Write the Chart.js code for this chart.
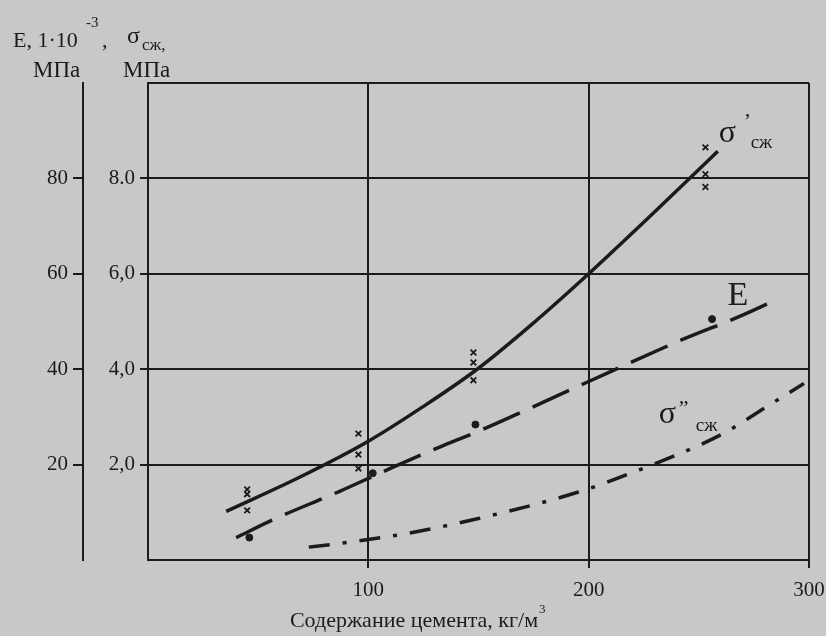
<!DOCTYPE html>
<html>
<head>
<meta charset="utf-8">
<script src="https://cdn.jsdelivr.net/npm/chart.js@4.4.0/dist/chart.umd.min.js"></script>
<style>
  html, body { margin: 0; padding: 0; background: #c8c8c6; }
  canvas { display: block; }
</style>
</head>
<body>
<canvas id="strengthChart" width="826" height="636"></canvas>
<script>
// tick labels
const xTickText = ['', '100', '200', '300'];
const sigmaTickText = ['', '2,0', '4,0', '6,0', '8.0', ''];
const eTickText = ['', '20', '40', '60', '80', ''];

// sigma' (solid) curve, MPa
const sigma1X = [35.5, 69, 100, 125, 150, 175, 200, 230, 258.6];
const sigma1Y = [1.02, 1.74, 2.49, 3.22, 4.02, 4.97, 6.0, 7.3, 8.57];
// sigma' test points (x marks)
const sigma1PtsX = [45, 45, 45, 95.5, 95.5, 95.5, 147.7, 147.7, 147.7, 253, 253, 253];
const sigma1PtsY = [1.48, 1.38, 1.04, 2.65, 2.21, 1.92, 4.35, 4.14, 3.77, 8.65, 8.09, 7.82];

// E (dashed) curve, E*10^-3 MPa
const eLineX = [40, 57, 87, 110, 134, 151, 198, 244, 267.7, 284.5];
const eLineY = [4.7, 8.5, 14.4, 19.2, 24.0, 27.2, 37.0, 46.5, 50.9, 54.4];
const ePtsX = [46, 102, 148.6, 256];
const ePtsY = [4.7, 18.2, 28.4, 50.5];

// sigma'' (dash-dot) curve, MPa
const sigma2X = [73, 80.5, 100, 118, 150, 195, 218, 261, 281, 297.7];
const sigma2Y = [0.27, 0.31, 0.43, 0.56, 0.87, 1.42, 1.80, 2.65, 3.22, 3.7];

const ink = '#1b1b1b';
const serif = "'Liberation Serif', 'DejaVu Serif', serif";
Chart.defaults.font.family = serif;
Chart.defaults.color = ink;

const toXY = (xs, ys) => xs.map((x, i) => ({ x, y: ys[i] }));
const hideEnds = (lo, hi) => (c) => (c.tick && (c.tick.value === lo || c.tick.value === hi)) ? 'rgba(0,0,0,0)' : ink;

// curve names and axis captions
const notes = {
  id: 'notes',
  afterDraw(chart) {
    const { ctx, scales: { x, y } } = chart;
    const put = (txt, px, py, size) => {
      ctx.font = `${size}px ${serif}`;
      ctx.fillText(txt, px, py);
      return ctx.measureText(txt).width;
    };
    ctx.save();
    ctx.fillStyle = ink;
    ctx.textAlign = 'left';
    ctx.textBaseline = 'alphabetic';

    let px = x.getPixelForValue(259), py = y.getPixelForValue(8.76);
    put('σ', px, py, 32);
    put('\u2019', px + 25, py - 14, 22);
    put('сж', px + 32, py + 6, 19);

    px = x.getPixelForValue(263); py = y.getPixelForValue(5.34);
    put('E', px, py, 34);

    px = x.getPixelForValue(231.8); py = y.getPixelForValue(2.88);
    put('σ', px, py, 32);
    put('\u201D', px + 20, py - 8, 22);
    put('сж', px + 37, py + 8, 19);

    // y axis captions
    let w = put('E, 1·10', 13, 47, 22);
    put('-3', 86, 27, 15);
    put(',', 102, 47, 22);
    w = put('σ', 127, 43, 24);
    put('сж,', 127 + w + 2, 50, 17);
    put('МПа', 33, 77, 23);
    put('МПа', 123, 77, 23);

    // x axis caption
    const title = 'Содержание цемента, кг/м';
    ctx.font = `22px ${serif}`;
    const tw = ctx.measureText(title).width;
    const left = 414 - tw / 2;
    put(title, left, 627, 22);
    put('3', left + tw + 1, 613, 13);
    ctx.restore();
  }
};

new Chart(document.getElementById('strengthChart'), {
  type: 'scatter',
  data: {
    datasets: [
      { data: toXY(sigma1X, sigma1Y), showLine: true, borderColor: ink, borderWidth: 3.5, pointRadius: 0, cubicInterpolationMode: 'monotone', yAxisID: 'y' },
      { data: toXY(eLineX, eLineY), showLine: true, borderColor: ink, borderWidth: 3.5, borderDash: [40, 14], pointRadius: 0, cubicInterpolationMode: 'monotone', yAxisID: 'yE' },
      { data: toXY(sigma2X, sigma2Y), showLine: true, borderColor: ink, borderWidth: 3.5, borderDash: [21, 13, 4, 13], pointRadius: 0, cubicInterpolationMode: 'monotone', yAxisID: 'y' },
      { data: toXY(sigma1PtsX, sigma1PtsY), pointStyle: 'crossRot', pointRadius: 4, borderWidth: 1.8, borderColor: ink, yAxisID: 'y' },
      { data: toXY(ePtsX, ePtsY), pointStyle: 'circle', pointRadius: 3.5, backgroundColor: ink, borderColor: ink, yAxisID: 'yE' }
    ]
  },
  options: {
    responsive: false,
    animation: false,
    layout: { padding: { top: 83, right: 17, bottom: 0, left: 0 } },
    plugins: { legend: { display: false }, tooltip: { enabled: false } },
    scales: {
      x: {
        type: 'linear', min: 0, max: 300,
        ticks: { stepSize: 100, padding: 10, font: { size: 21 }, callback: (v) => xTickText[v / 100] },
        grid: { color: ink, lineWidth: 2, tickLength: 8, tickColor: hideEnds(0, -1) },
        border: { color: ink, width: 2 },
        afterFit: (s) => { s.height = 76; s.paddingLeft = 0; s.paddingRight = 0; }
      },
      y: {
        type: 'linear', position: 'left', weight: 0, min: 0, max: 10,
        ticks: { stepSize: 2, padding: 5, font: { size: 21 }, callback: (v) => sigmaTickText[v / 2] },
        grid: { color: ink, lineWidth: 2, tickLength: 8, tickColor: hideEnds(0, 10) },
        border: { color: ink, width: 2 },
        afterFit: (s) => { s.width = 65; }
      },
      yE: {
        type: 'linear', position: 'left', weight: 1, min: 0, max: 100,
        ticks: { stepSize: 20, padding: 5, font: { size: 21 }, callback: (v) => eTickText[v / 20] },
        grid: { drawOnChartArea: false, color: ink, lineWidth: 2, tickLength: 10, tickColor: hideEnds(0, 100) },
        border: { color: ink, width: 2 },
        afterFit: (s) => { s.width = 83; }
      }
    }
  },
  plugins: [notes]
});
</script>
</body>
</html>
